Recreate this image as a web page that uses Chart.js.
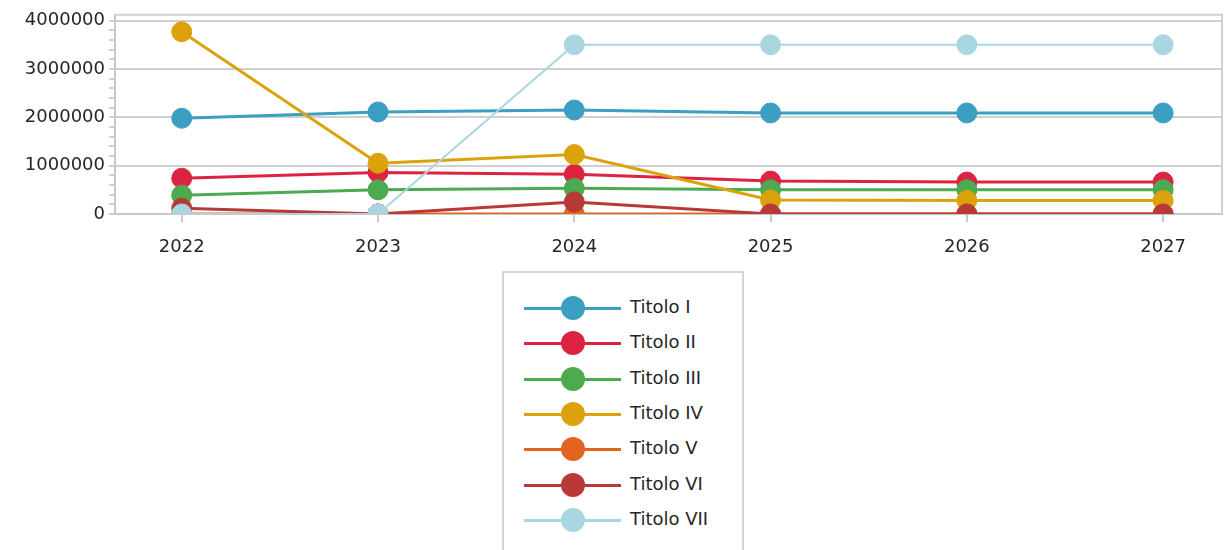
<!DOCTYPE html>
<html lang="it">
<head>
  <meta charset="UTF-8" />
  <title>Titoli</title>
  <script src="https://cdn.jsdelivr.net/npm/chart.js"></script>
  <style>
    html, body { margin: 0; padding: 0; background: #fff; }
    body { font-family: 'DejaVu Sans', sans-serif; }
    #wrap { position: relative; width: 1225px; height: 550px; overflow: hidden; }
    #chartBox { position: absolute; left: 0; top: 0; width: 1225px; height: 265px; }
    #legend {
      position: absolute; left: 502px; top: 271px; width: 242px; height: 300px;
      border: 2px solid #d4d4d4; box-sizing: border-box;
    }
    .item { position: absolute; left: 20px; height: 30px; width: 220px; }
    .item .ln { position: absolute; left: 0; top: 14px; width: 97px; height: 3px; }
    .item .pt { position: absolute; left: 37px; top: 3px; width: 24px; height: 24px; border-radius: 50%; }
    .item .tx { position: absolute; left: 106px; top: 3px; font-size: 18px; color: #262626; white-space: nowrap; }
  </style>
</head>
<body>
  <div id="wrap">
    <div id="chartBox"><canvas id="c"></canvas></div>
    <div id="legend"></div>
  </div>

  <script>
    // dati
    const anni = [2022, 2023, 2024, 2025, 2026, 2027];
    const titoli = ['Titolo I', 'Titolo II', 'Titolo III', 'Titolo IV', 'Titolo V', 'Titolo VI', 'Titolo VII'];
    const titolo1 = [1980000, 2110000, 2150000, 2090000, 2090000, 2090000];
    const titolo2 = [740000, 860000, 820000, 680000, 660000, 660000];
    const titolo3 = [390000, 500000, 530000, 500000, 500000, 500000];
    const titolo4 = [3770000, 1050000, 1230000, 290000, 280000, 280000];
    const titolo5 = [0, 0, 0, 0, 0, 0];
    const titolo6 = [120000, 0, 250000, 0, 0, 0];
    const titolo7 = [0, 0, 3500000, 3500000, 3500000, 3500000];
    const yTicks = [0, 1000000, 2000000, 3000000, 4000000];

    const serie = [titolo1, titolo2, titolo3, titolo4, titolo5, titolo6, titolo7];
    const colori = ['#3a9fc1', '#dc2442', '#4caa50', '#dca20c', '#e3641f', '#b83a36', '#a9d6e0'];

    const datasets = serie.map((vals, i) => ({
      label: titoli[i],
      data: vals.map((v, j) => ({ x: anni[j], y: v })),
      borderColor: colori[i],
      backgroundColor: colori[i],
      pointBackgroundColor: colori[i],
      pointBorderColor: colori[i],
      borderWidth: i === 6 ? 2 : 3,
      pointRadius: 10,
      pointHoverRadius: 10,
      pointBorderWidth: 1,
      order: serie.length - i,
      tension: 0
    }));

    // bordo dell'area del grafico
    const areaBorder = {
      id: 'areaBorder',
      afterDraw(chart) {
        const a = chart.chartArea;
        const ctx = chart.ctx;
        ctx.save();
        ctx.strokeStyle = '#d0d0d0';
        ctx.lineWidth = 2;
        ctx.beginPath();
        ctx.moveTo(a.left, a.top);
        ctx.lineTo(a.right, a.top);
        ctx.lineTo(a.right, a.bottom);
        ctx.stroke();
        ctx.restore();
      }
    };

    new Chart(document.getElementById('c'), {
      type: 'line',
      data: { datasets },
      plugins: [areaBorder],
      options: {
        responsive: true,
        maintainAspectRatio: false,
        animation: false,
        layout: { autoPadding: false, padding: { top: 12, right: 3 } },
        plugins: { legend: { display: false }, tooltip: { enabled: false } },
        scales: {
          x: {
            type: 'linear',
            min: 2021.66,
            max: 2027.3,
            afterBuildTicks: s => { s.ticks = anni.map(v => ({ value: v })); },
            afterFit: s => { s.height = 51; },
            ticks: {
              color: '#262626',
              font: { family: 'DejaVu Sans', size: 18 },
              padding: 15,
              callback: v => String(v)
            },
            grid: { drawOnChartArea: false, color: '#c8c8c8', tickLength: 8, lineWidth: 2 },
            border: { color: '#c8c8c8', width: 2 }
          },
          y: {
            min: 0,
            max: 4120000,
            afterBuildTicks: s => {
              const t = [];
              for (let v = 0; v <= 4000000; v += 200000) t.push({ value: v });
              s.ticks = t;
            },
            afterFit: s => { s.width = 115; },
            ticks: {
              color: '#262626',
              font: { family: 'DejaVu Sans', size: 18 },
              padding: 4,
              autoSkip: false,
              callback: v => (yTicks.includes(v) ? String(v) : '')
            },
            grid: {
              lineWidth: 2,
              tickLength: 6,
              color: ctx => (yTicks.includes(ctx.tick.value) ? '#d0d0d0' : 'rgba(0,0,0,0)'),
              tickColor: '#d0d0d0'
            },
            border: { color: '#c8c8c8', width: 2 }
          }
        }
      }
    });

    // legenda
    const leg = document.getElementById('legend');
    titoli.forEach((t, i) => {
      const d = document.createElement('div');
      d.className = 'item';
      d.style.top = (20 + i * 35.3) + 'px';
      d.innerHTML = '<div class="ln" style="background:' + colori[i] + '"></div>' +
        '<div class="pt" style="background:' + colori[i] + '"></div>' +
        '<div class="tx">' + t + '</div>';
      leg.appendChild(d);
    });
  </script>
</body>
</html>
